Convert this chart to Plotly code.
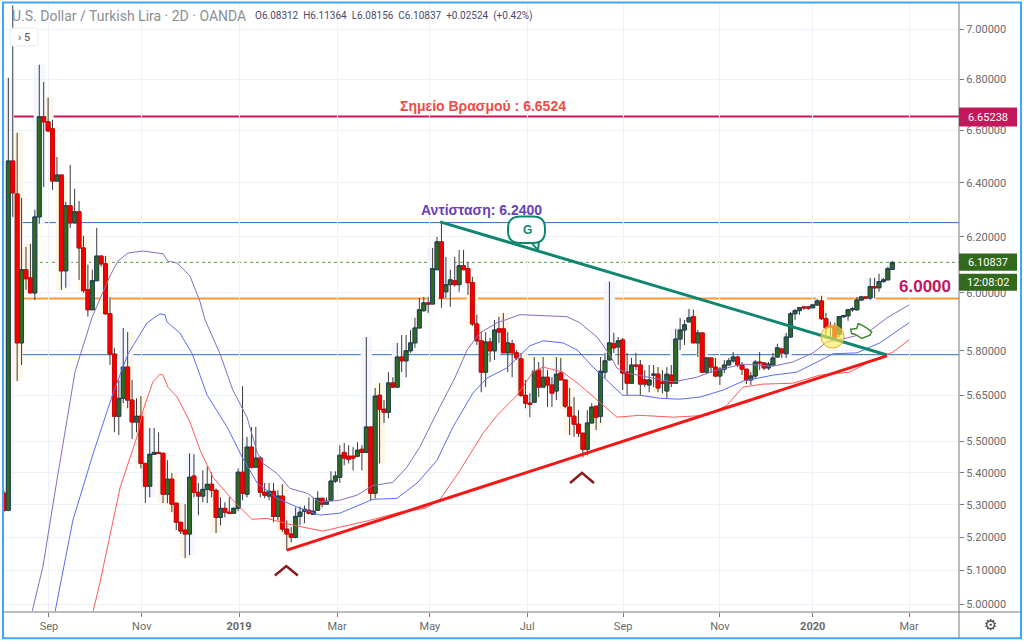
import math
import plotly.graph_objects as go

# ---- candle data (USD/TRY, 2D bars) ----
opens = [5.336,5.283,6.482,6.358,5.827,6.082,6.053,6.0,6.273,6.652,
6.632,6.605,6.406,6.429,6.078,6.314,6.251,6.292,6.16,6.011,
5.941,6.043,6.131,6.103,5.927,5.789,5.582,5.641,5.745,5.635,
5.563,5.582,5.43,5.358,5.459,5.465,5.462,5.333,5.38,5.305,
5.246,5.222,5.21,5.39,5.339,5.327,5.348,5.364,5.345,5.261,
5.289,5.277,5.274,5.289,5.402,5.333,5.482,5.418,5.447,5.339,
5.327,5.342,5.264,5.327,5.225,5.21,5.2,5.264,5.28,5.283,
5.27,5.283,5.32,5.302,5.314,5.374,5.386,5.465,5.453,5.453,
5.453,5.475,5.465,5.547,5.336,5.651,5.605,5.595,5.692,5.678,
5.779,5.766,5.8,5.827,5.878,5.938,5.965,5.961,6.082,6.182,
6.004,6.029,6.043,6.029,6.096,6.086,6.036,5.892,5.834,5.728,
5.83,5.8,5.875,5.875,5.793,5.824,5.793,5.773,5.651,5.625,
5.628,5.735,5.678,5.711,5.685,5.665,5.725,5.702,5.612,5.582,
5.556,5.527,5.475,5.56,5.615,5.582,5.728,5.769,5.824,5.813,
5.837,5.728,5.691,5.752,5.752,5.702,5.685,5.718,5.721,5.695,
5.665,5.718,5.691,5.84,5.871,5.899,5.917,5.827,5.861,5.728,
5.776,5.745,5.715,5.738,5.752,5.766,5.779,5.752,5.738,5.702,
5.715,5.762,5.759,5.742,5.752,5.779,5.806,5.79,5.847,5.927,
5.938,5.951,5.951,5.948,5.958,5.972,5.91,5.885,5.882,5.857,
5.917,5.92,5.941,5.941,5.975,5.986,5.982,6.022,6.018,6.04,
6.046,6.083]
highs = [5.345,6.805,7.10,6.59,6.343,6.164,6.175,6.299,6.858,6.789,
6.727,6.64,6.497,6.429,6.329,6.467,6.377,6.332,6.204,6.1,
6.082,6.233,6.131,6.131,5.986,5.81,5.702,5.878,5.864,5.702,
5.641,5.648,5.43,5.544,5.544,5.53,5.465,5.44,5.399,5.305,
5.246,5.302,5.462,5.459,5.368,5.408,5.421,5.402,5.351,5.323,
5.308,5.323,5.292,5.414,5.681,5.515,5.547,5.547,5.453,5.368,
5.368,5.368,5.345,5.364,5.252,5.231,5.292,5.295,5.298,5.323,
5.323,5.342,5.323,5.323,5.405,5.405,5.488,5.495,5.488,5.482,
5.498,5.488,5.847,5.547,5.675,5.691,5.635,5.728,5.711,5.827,
5.854,5.854,5.871,5.913,5.982,5.986,5.986,6.16,6.2,6.255,
6.128,6.082,6.128,6.153,6.153,6.11,6.057,5.924,5.864,5.864,
5.844,5.906,5.917,5.93,5.864,5.837,5.803,5.793,5.702,5.658,
5.779,5.762,5.779,5.735,5.711,5.779,5.776,5.702,5.675,5.645,
5.602,5.527,5.602,5.625,5.615,5.779,5.793,6.04,5.861,5.847,
5.844,5.793,5.776,5.793,5.769,5.735,5.752,5.752,5.745,5.735,
5.745,5.752,5.875,5.913,5.906,5.944,5.941,5.871,5.864,5.779,
5.776,5.776,5.745,5.769,5.776,5.796,5.783,5.762,5.738,5.728,
5.769,5.796,5.762,5.762,5.793,5.824,5.81,5.861,5.934,5.944,
5.951,5.955,5.955,5.961,5.979,5.99,5.93,5.899,5.896,5.92,
5.924,5.944,5.951,5.986,5.99,5.986,6.053,6.053,6.068,6.053,
6.093,6.114]
lows = [5.277,5.28,6.273,5.698,5.752,6.011,6.0,5.975,6.248,6.384,
6.593,6.373,6.406,6.011,6.018,6.233,6.251,6.046,6.0,5.917,
5.941,6.043,6.093,5.924,5.752,5.53,5.521,5.625,5.608,5.508,
5.53,5.414,5.305,5.323,5.459,5.462,5.305,5.305,5.277,5.222,
5.21,5.137,5.146,5.323,5.268,5.308,5.305,5.323,5.213,5.237,
5.261,5.274,5.274,5.28,5.314,5.323,5.414,5.418,5.323,5.32,
5.314,5.246,5.252,5.216,5.161,5.185,5.197,5.237,5.243,5.27,
5.27,5.283,5.292,5.302,5.314,5.368,5.368,5.424,5.43,5.408,
5.45,5.408,5.465,5.314,5.32,5.43,5.56,5.576,5.675,5.675,
5.728,5.711,5.793,5.81,5.878,5.934,5.93,5.961,6.082,5.948,
5.982,5.951,6.022,6.004,6.082,5.993,5.885,5.82,5.661,5.678,
5.762,5.769,5.827,5.793,5.728,5.711,5.769,5.645,5.608,5.579,
5.628,5.645,5.678,5.612,5.612,5.635,5.702,5.608,5.521,5.515,
5.515,5.45,5.456,5.56,5.537,5.56,5.708,5.769,5.793,5.752,
5.668,5.651,5.691,5.735,5.651,5.678,5.661,5.678,5.661,5.658,
5.641,5.678,5.691,5.803,5.82,5.899,5.827,5.779,5.725,5.721,
5.725,5.711,5.685,5.725,5.752,5.759,5.745,5.718,5.688,5.685,
5.708,5.735,5.735,5.735,5.752,5.776,5.776,5.776,5.844,5.906,
5.924,5.941,5.941,5.948,5.955,5.906,5.854,5.847,5.837,5.847,
5.913,5.903,5.934,5.938,5.972,5.979,5.975,5.982,6.004,6.036,
6.046,6.082]
closes = [5.283,6.482,6.362,5.827,6.082,6.05,6.0,6.273,6.652,6.632,
6.597,6.406,6.429,6.078,6.314,6.251,6.292,6.16,6.008,5.941,
6.043,6.131,6.103,5.927,5.789,5.582,5.641,5.745,5.635,5.563,
5.582,5.43,5.358,5.459,5.465,5.462,5.333,5.38,5.302,5.246,
5.219,5.21,5.386,5.339,5.327,5.348,5.364,5.345,5.261,5.289,
5.277,5.274,5.289,5.402,5.336,5.482,5.418,5.447,5.339,5.33,
5.342,5.264,5.327,5.225,5.21,5.2,5.264,5.277,5.286,5.274,
5.28,5.32,5.302,5.311,5.374,5.39,5.456,5.447,5.443,5.447,
5.472,5.465,5.547,5.336,5.648,5.605,5.595,5.692,5.678,5.779,
5.766,5.8,5.827,5.878,5.941,5.965,5.961,6.086,6.182,5.982,
6.029,6.046,6.029,6.096,6.082,6.036,5.892,5.834,5.728,5.83,
5.8,5.871,5.864,5.793,5.827,5.793,5.776,5.651,5.625,5.621,
5.731,5.678,5.711,5.685,5.658,5.721,5.702,5.615,5.582,5.556,
5.527,5.475,5.56,5.612,5.579,5.731,5.766,5.827,5.81,5.834,
5.725,5.691,5.752,5.749,5.688,5.688,5.702,5.721,5.675,5.691,
5.721,5.691,5.84,5.871,5.889,5.913,5.827,5.861,5.728,5.776,
5.745,5.715,5.738,5.752,5.766,5.779,5.752,5.738,5.702,5.715,
5.762,5.759,5.742,5.755,5.776,5.81,5.793,5.847,5.927,5.938,
5.948,5.948,5.947,5.958,5.972,5.91,5.878,5.882,5.844,5.917,
5.92,5.941,5.944,5.975,5.986,5.982,6.022,6.018,6.04,6.046,
6.086,6.108]
bars = list(range(len(opens)))

# ---- indicator curves ----
purple_x = [6.4,8.8,12,16.1,20,24,25.8,28.1,31.5,36,37.1,39.2,42.1,44.4,45.5,48.9,51.8,55,57.3,58.6,61.8,64.7,68.6,71.5,76,79.9,83.5,88,91.2,94.1,97.1,100.2,102.1,104.8,107.7,111.6,116.8,122.9,127.4,130.3,134.2,137.1,138.7,141,145.5,151.4,156.8,160.4,167.2,174,178.5,183.1,186.2,190.8,195.3,199.8,204.8]
purple_y = [4.98,5.11,5.377,5.73,5.917,6.06,6.113,6.142,6.149,6.139,6.113,6.106,6.06,5.968,5.906,5.79,5.668,5.579,5.465,5.43,5.398,5.351,5.336,5.308,5.314,5.33,5.36,5.37,5.418,5.482,5.569,5.658,5.711,5.803,5.861,5.896,5.924,5.92,5.917,5.896,5.847,5.786,5.742,5.725,5.711,5.695,5.711,5.731,5.755,5.748,5.762,5.793,5.83,5.844,5.861,5.913,5.958]
blue_x = [11.6,15.6,20.2,24.7,28.1,32.4,35.3,36.4,36.9,39.8,42.6,46,50.5,53.9,57.3,61.8,67,71.5,76,83.5,88.9,93.5,98,101.6,106.1,109.3,113.8,116.8,119,122,126.5,129.7,133.3,137.1,140,143.9,148.4,152.9,157.5,162.7,167.2,174,179.4,184,187.6,193,198.2,204.8]
blue_y = [4.98,5.252,5.462,5.658,5.79,5.896,5.927,5.924,5.899,5.861,5.79,5.651,5.547,5.45,5.368,5.32,5.289,5.268,5.274,5.317,5.32,5.368,5.44,5.547,5.658,5.708,5.742,5.786,5.817,5.834,5.827,5.803,5.745,5.691,5.651,5.651,5.641,5.638,5.645,5.668,5.698,5.718,5.728,5.762,5.79,5.793,5.827,5.896]
red_x = [20.2,21.7,26.3,30.1,31.5,33.7,35.3,36,37.1,39.2,42.1,44.4,47.3,51.8,56.1,59.5,65.4,72.2,76,82.8,89.6,95.3,98.7,103.2,108.4,111.6,116.1,119.7,122,126.5,130.3,134.2,138.7,143.9,151.4,159.1,163.6,167.2,171.7,178.5,184.6,191.4,196.6,201.2,204.8]
red_y = [4.98,5.062,5.354,5.515,5.602,5.695,5.721,5.718,5.678,5.645,5.563,5.472,5.386,5.314,5.255,5.258,5.237,5.219,5.231,5.252,5.277,5.289,5.317,5.408,5.527,5.585,5.651,5.728,5.745,5.728,5.685,5.635,5.579,5.585,5.579,5.585,5.618,5.678,5.688,5.691,5.718,5.728,5.769,5.796,5.837]

# ---- levels and trend lines ----
level_boil = 6.65238
level_res = 6.2521
level_orange = 5.98
level_support = 5.7868
level_last = 6.10837
teal_x = [98.7, 199.8]
teal_y = [6.255, 5.786]
trend_x = [64.0, 199.8]
trend_y = [5.161, 5.783]
chev1_x = [61.3, 63.9, 66.5]
chev1_y = [5.085, 5.113, 5.085]
chev2_x = [128.1, 130.8, 133.5]
chev2_y = [5.368, 5.40, 5.368]

# ---- pale range highlights ----
yellow_bars = [3,5,6,10,13,18,23,28,31,36,38,41,48,63,64,83,85,106,113,117,127,128,131,134,148,156,158,161,168,185]
pale_blue_bars = [1,8,14,27,33,42,55,66,82,89,97,100,111,125,137,152,155,177,189,196]

# ---- axes ----
y_ticks = [7.0,6.8,6.6,6.4,6.2,6.0,5.8,5.65,5.5,5.4,5.3,5.2,5.1,5.0]
x_tick_bars = [10.2,31.2,53.2,75.4,96.4,118.4,140.1,162,183,204.8]
x_tick_labels = ["Sep","Nov","<b>2019</b>","Mar","May","Jul","Sep","Nov","<b>2020</b>","Mar"]

W, H = 1024, 642
L, R, T, B = 4, 959, 3, 611.7
def px(x): return (x - L) / (R - L)
def py(y): return 1 - (y - T) / (B - T)

fig = go.Figure()

for xs, ys, col in ((purple_x, purple_y, "#8a6bbf"), (blue_x, blue_y, "#5a6cf0"), (red_x, red_y, "#ff5a5a")):
    fig.add_trace(go.Scatter(x=xs, y=ys, mode="lines", line=dict(color=col, width=1), hoverinfo="skip"))

# wicks
fig.add_trace(go.Candlestick(x=bars, open=opens, high=highs, low=lows, close=closes, whiskerwidth=0,
                             increasing=dict(line=dict(color="#3a3a3a", width=1), fillcolor="#2f6b1e"),
                             decreasing=dict(line=dict(color="#3a3a3a", width=1), fillcolor="#f40000")))
# bodies
fig.add_trace(go.Candlestick(x=bars, open=opens, close=closes, whiskerwidth=0,
                             high=[max(a, b) for a, b in zip(opens, closes)],
                             low=[min(a, b) for a, b in zip(opens, closes)],
                             increasing=dict(line=dict(color="#1f3f5f", width=0.8), fillcolor="#2f6b1e"),
                             decreasing=dict(line=dict(color="#e00000", width=0.8), fillcolor="#f40000")))

fig.add_trace(go.Scatter(x=teal_x, y=teal_y, mode="lines", line=dict(color="#10866f", width=3), hoverinfo="skip"))
fig.add_trace(go.Scatter(x=trend_x, y=trend_y, mode="lines", line=dict(color="#f51616", width=3), hoverinfo="skip"))
for xs, ys in ((chev1_x, chev1_y), (chev2_x, chev2_y)):
    fig.add_trace(go.Scatter(x=xs, y=ys, mode="lines", line=dict(color="#8b1a1a", width=2.5), hoverinfo="skip"))

def rpath(x0, y0, x1, y1, r):
    return (f"M{px(x0+r)},{py(y0)} L{px(x1-r)},{py(y0)} Q{px(x1)},{py(y0)} {px(x1)},{py(y0+r)} "
            f"L{px(x1)},{py(y1-r)} Q{px(x1)},{py(y1)} {px(x1-r)},{py(y1)} L{px(x0+r)},{py(y1)} "
            f"Q{px(x0)},{py(y1)} {px(x0)},{py(y1-r)} L{px(x0)},{py(y0+r)} Q{px(x0)},{py(y0)} {px(x0+r)},{py(y0)} Z")

shapes = []
# pale boxes and level lines sit under the candles
for idx, col in ((yellow_bars, "#fff7e6"), (pale_blue_bars, "#f4f7fd")):
    for i in idx:
        shapes.append(dict(type="rect", layer="below", xref="x", yref="y", x0=i-1.25, x1=i+1.25,
                           y0=lows[i], y1=highs[i], fillcolor=col, line=dict(width=0)))
for yv, col, w, dash in ((level_last, "#5a9a3c", 1, "dot"), (level_res, "#2a6fb5", 1, "solid"),
                         (level_support, "#2a6fb5", 1, "solid"), (level_orange, "#ff9a3c", 2, "solid"),
                         (level_boil, "#c2185b", 2, "solid")):
    shapes.append(dict(type="line", layer="below", xref="paper", yref="y", x0=0, x1=1, y0=yv, y1=yv,
                       line=dict(color=col, width=w, dash=dash)))

hand = [(512,297),(530,295),(535,280),(550,287),(558,292),(575,305),(570,315),(545,325),(525,312),(515,310)]
hand_path = "M" + " L".join(f"{px(680+a/3)},{py(230+b/3)}" for a, b in hand) + " Z"

shapes += [
    # chart frame and axis rules
    dict(type="line", xref="paper", yref="paper", x0=px(4), x1=px(1020), y0=py(611.7), y1=py(611.7), line=dict(color="#787878", width=1)),
    dict(type="line", xref="paper", yref="paper", x0=px(959), x1=px(959), y0=py(3), y1=py(638), line=dict(color="#787878", width=1)),
    dict(type="rect", xref="paper", yref="paper", x0=px(3), x1=px(1021), y0=py(2.5), y1=py(638), line=dict(color="#42a5f5", width=2)),
    # yellow circle
    dict(type="circle", xref="paper", yref="paper", x0=px(821), x1=px(844), y0=py(325), y1=py(348),
         fillcolor="rgba(255,236,80,0.62)", line=dict(color="#f5a623", width=1)),
    # pointing hand
    dict(type="path", xref="paper", yref="paper", path=hand_path, fillcolor="rgba(255,255,255,0.85)",
         line=dict(color="#3f8a2e", width=1.5)),
    # callout G tail and body
    dict(type="path", xref="paper", yref="paper", path=f"M{px(530)},{py(241)} L{px(538)},{py(250)} L{px(539)},{py(241)} Z",
         fillcolor="white", line=dict(color="#10866f", width=2)),
    dict(type="path", xref="paper", yref="paper", path=rpath(508, 216.5, 545, 243, 12),
         fillcolor="white", line=dict(color="#10866f", width=2)),
    # "> 5" button
    dict(type="path", xref="paper", yref="paper", path=rpath(10, 28, 38, 46, 3),
         fillcolor="white", line=dict(color="#e6e9ee", width=1)),
]

def note(x, y, text, size, color, anchor="center", family="Liberation Sans", **kw):
    return dict(xref="paper", yref="paper", x=px(x), y=py(y), text=text, showarrow=False,
                xanchor=anchor, yanchor="middle", font=dict(family=family, size=size, color=color),
                borderpad=0, **kw)

annotations = [
    note(11, 16, "U.S. Dollar / Turkish Lira · 2D · OANDA", 14, "#8a8f96", "left", "Roboto"),
    note(254, 16, "O6.08312  H6.11364  L6.08156  C6.10837  +0.02524  (+0.42%)", 10, "#4a4a6a", "left", "Roboto"),
    note(24, 37.5, "› 5", 11, "#555", "center", "Roboto"),
    note(483, 106, "<b>Σημείο Βρασμού : 6.6524</b>", 14, "#ef4b45"),
    note(481, 210, "<b>Αντίσταση: 6.2400</b>", 14, "#6a3fb5"),
    note(527, 230, "<b>G</b>", 12, "#10866f"),
    note(925, 286, "<b>6.0000</b>", 17, "#c2185b"),
    note(990, 625, "⚙", 15, "#444", family="DejaVu Sans"),
]
for yc, yh, txt, col in ((117, 19, "6.65238", "#c2185b"), (262, 17, "6.10837", "#33691e"), (282, 17, "12:08:02", "#33691e")):
    shapes.append(dict(type="rect", xref="paper", yref="paper", x0=px(959), x1=px(1017), y0=py(yc-yh/2), y1=py(yc+yh/2),
                       fillcolor=col, line=dict(width=0)))
    annotations.append(note(988, yc, txt, 11, "white", family="Roboto"))

fig.update_layout(
    width=W, height=H, autosize=False, showlegend=False,
    margin=dict(l=L, r=W-R, t=T, b=H-B, pad=0),
    paper_bgcolor="white", plot_bgcolor="white",
    boxgap=0.12, boxgroupgap=0, boxmode="overlay",
    shapes=shapes, annotations=annotations,
    xaxis=dict(range=[0.02, 216.1], rangeslider=dict(visible=False), tickmode="array",
               tickvals=x_tick_bars, ticktext=x_tick_labels, showgrid=True, gridcolor="#ecf2f8", gridwidth=1,
               ticks="outside", ticklen=4, tickcolor="#787878", zeroline=False,
               tickfont=dict(family="Roboto", size=11, color="#6a6a6a"), showline=False),
    yaxis=dict(type="log", side="right", range=[math.log10(4.9775), math.log10(7.11)], tickmode="array",
               tickvals=y_ticks, ticktext=[f"{v:.5f}" for v in y_ticks], showgrid=True, gridcolor="#ecf2f8",
               gridwidth=1, ticks="outside", ticklen=4, tickcolor="#787878", zeroline=False,
               tickfont=dict(family="Roboto", size=11, color="#6a6a6a"), showline=False),
)

fig.write_html("out.html", config=dict(displayModeBar=False),
               post_script="document.body.style.margin='0';document.body.style.overflow='hidden';")
